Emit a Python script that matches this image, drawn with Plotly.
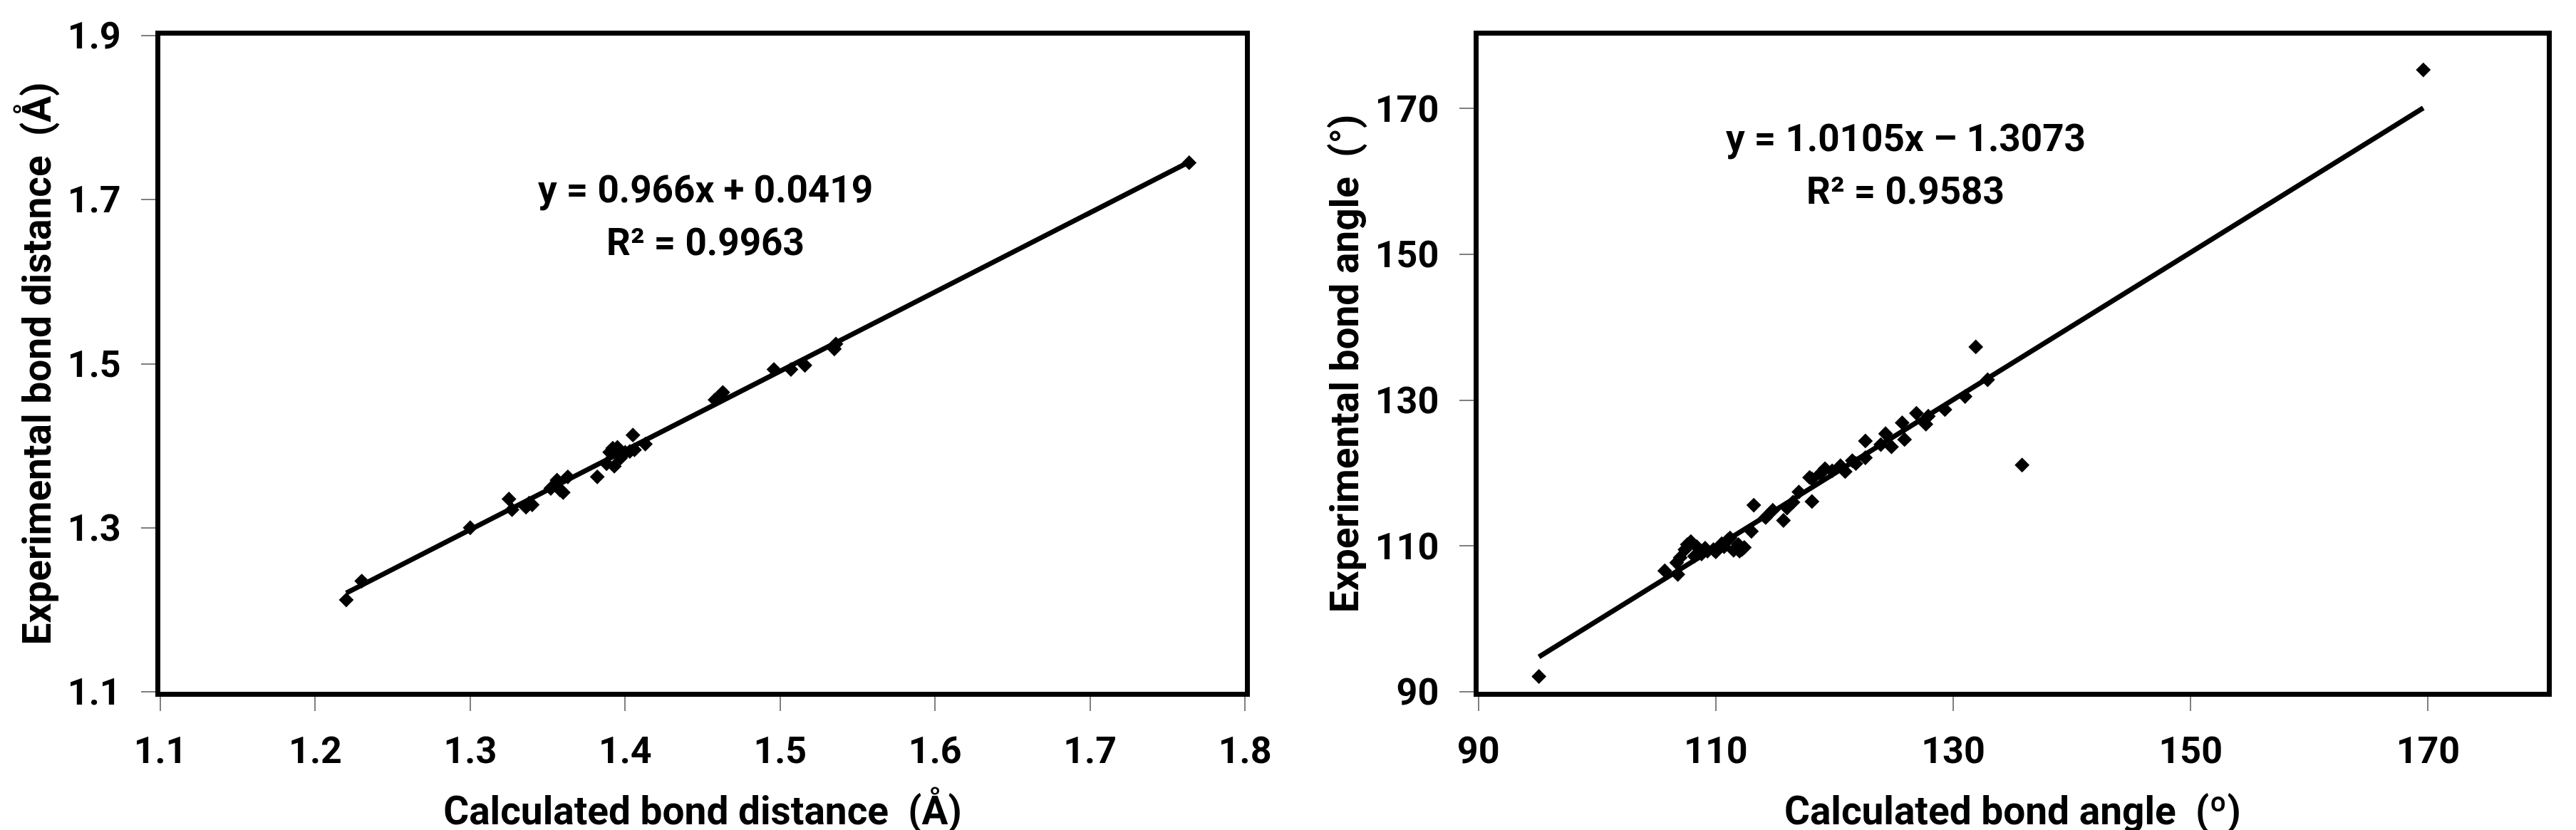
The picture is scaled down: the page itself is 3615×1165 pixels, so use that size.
import plotly.graph_objects as go

# ---- Left panel: bond distances ----
dist_calc = [1.220, 1.230, 1.300, 1.325, 1.327, 1.336, 1.338, 1.340, 1.352, 1.356,
             1.358, 1.360, 1.363, 1.382, 1.388, 1.390, 1.392, 1.393, 1.395, 1.397,
             1.400, 1.403, 1.405, 1.406, 1.413, 1.458, 1.461, 1.463, 1.496, 1.507,
             1.516, 1.535, 1.536, 1.764]
dist_exp = [1.212, 1.235, 1.300, 1.335, 1.322, 1.325, 1.330, 1.328, 1.348, 1.358,
            1.346, 1.343, 1.362, 1.362, 1.378, 1.392, 1.397, 1.375, 1.398, 1.385,
            1.392, 1.393, 1.413, 1.395, 1.402, 1.456, 1.460, 1.465, 1.493, 1.493,
            1.498, 1.518, 1.524, 1.745]
dist_slope, dist_icpt = 0.966, 0.0419
dist_eq = "y = 0.966x + 0.0419"
dist_r2 = "R² = 0.9963"
dist_xticks = [1.1, 1.2, 1.3, 1.4, 1.5, 1.6, 1.7, 1.8]
dist_yticks = [1.1, 1.3, 1.5, 1.7, 1.9]

# ---- Right panel: bond angles ----
ang_calc = [95.1, 169.6, 131.9, 135.8, 132.9, 131.0, 129.3, 127.9, 127.7, 126.9,
            125.7, 125.9, 124.3, 123.9, 122.6, 122.6, 121.5, 120.5, 119.8, 119.2,
            118.8, 118.1, 117.9, 118.1, 117.0, 116.5, 115.7, 114.8, 113.2, 113.0,
            111.9, 112.2, 111.2, 110.7, 109.8, 109.1, 108.4, 107.9, 107.4, 107.0,
            106.7, 106.8, 105.7, 110.0, 110.5, 111.0, 111.5, 112.0, 112.4, 108.8,
            109.3, 107.6, 108.2, 120.9, 121.8, 124.8, 114.2, 116.0]
ang_exp = [92.1, 175.3, 137.3, 121.1, 132.8, 130.5, 128.7, 127.8, 126.7, 128.2,
           126.9, 124.6, 125.4, 123.9, 124.4, 122.1, 121.7, 121.0, 120.3, 120.6,
           119.9, 119.2, 119.4, 116.1, 117.4, 116.0, 113.5, 114.9, 115.6, 112.0,
           110.2, 109.5, 111.1, 109.9, 109.5, 109.7, 109.9, 110.6, 109.5, 108.4,
           107.7, 106.1, 106.6, 109.2, 110.3, 110.8, 109.4, 109.3, 109.8, 108.9,
           109.3, 110.2, 108.6, 120.2, 121.3, 123.6, 113.9, 115.2]
ang_slope, ang_icpt = 1.0105, -1.3073
ang_eq = "y = 1.0105x – 1.3073"
ang_r2 = "R² = 0.9583"
ang_xticks = [90, 110, 130, 150, 170]
ang_yticks = [90, 110, 130, 150, 170]

FONT = "Roboto, 'Liberation Sans', Arial, sans-serif"
W, H = 3615, 1165

fig = go.Figure()

def add_panel(xs, ys, slope, icpt, xa, ya):
    fig.add_trace(go.Scatter(
        x=xs, y=ys, mode="markers", xaxis=xa, yaxis=ya,
        marker=dict(symbol="diamond", size=16, color="black", line=dict(width=0)),
        showlegend=False, hoverinfo="skip"))
    x0, x1 = min(xs), max(xs)
    fig.add_trace(go.Scatter(
        x=[x0, x1], y=[slope * x0 + icpt, slope * x1 + icpt], mode="lines",
        xaxis=xa, yaxis=ya, line=dict(color="black", width=7),
        showlegend=False, hoverinfo="skip"))

add_panel(dist_calc, dist_exp, dist_slope, dist_icpt, "x", "y")
add_panel(ang_calc, ang_exp, ang_slope, ang_icpt, "x2", "y2")

ml, mr, mt, mb = 217, 14, 33, 197
pw = W - ml - mr
d1 = [0, (1755 - ml) / pw]
d2 = [(2086 - ml) / pw, 1]

axis_common = dict(
    showgrid=False, zeroline=False, showline=True, linecolor="black", linewidth=7,
    mirror=True, ticks="outside", ticklen=20, tickwidth=2, tickcolor="#808080",
    tickfont=dict(family=FONT, size=52, color="black", weight="bold"),
)
title_font = dict(family=FONT, size=55, color="black", weight="bold")

fig.update_layout(
    width=W, height=H, paper_bgcolor="white", plot_bgcolor="white",
    margin=dict(l=ml, r=mr, t=mt, b=mb),
    xaxis=dict(domain=d1, range=[1.1, 1.8], tickvals=dist_xticks,
               ticktext=[f"{v:.1f}" for v in dist_xticks], anchor="y",
               title=dict(text="Calculated bond distance  (Å)", font=title_font, standoff=38),
               ticklabelstandoff=11, **axis_common),
    yaxis=dict(domain=[0, 1], range=[1.1, 1.9], tickvals=dist_yticks,
               ticktext=[f"{v:.1f}" for v in dist_yticks], anchor="x",
               title=dict(text="Experimental bond distance  (Å)", font=title_font, standoff=8),
               ticklabelstandoff=18, **axis_common),
    xaxis2=dict(domain=d2, range=[90, 180], tickvals=ang_xticks,
                ticktext=[str(v) for v in ang_xticks], anchor="y2",
                title=dict(text="Calculated bond angle  (º)", font=title_font, standoff=38),
                ticklabelstandoff=11, **axis_common),
    yaxis2=dict(domain=[0, 1], range=[90, 180], tickvals=ang_yticks,
                ticktext=[str(v) for v in ang_yticks], anchor="x2",
                title=dict(text="Experimental bond angle  (°)", font=title_font, standoff=8),
                ticklabelstandoff=18, **axis_common),
)

ann_font = dict(family=FONT, size=53, color="black", weight="bold")
fig.add_annotation(x=1.452, y=1.712, xref="x", yref="y", text=dist_eq,
                   showarrow=False, font=ann_font)
fig.add_annotation(x=1.452, y=1.648, xref="x", yref="y", text=dist_r2,
                   showarrow=False, font=ann_font)
fig.add_annotation(x=126.0, y=165.9, xref="x2", yref="y2", text=ang_eq,
                   showarrow=False, font=ann_font)
fig.add_annotation(x=126.0, y=158.7, xref="x2", yref="y2", text=ang_r2,
                   showarrow=False, font=ann_font)

fig.write_html("out.html")
